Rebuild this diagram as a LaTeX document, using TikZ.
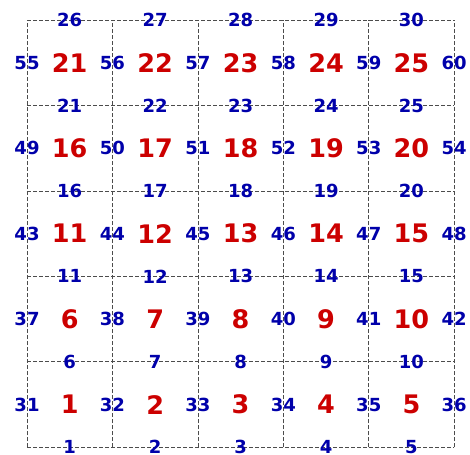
\documentclass[tikz,border=0pt]{standalone}
\usepackage{fontspec}
\setmainfont{DejaVu Sans}
\usetikzlibrary{positioning}
\definecolor{cellred}{RGB}{204,0,0}
\definecolor{edgeblue}{RGB}{0,0,170}
\tikzset{
  gridline/.style={draw=black!70, line width=0.5pt, dash pattern=on 2.6pt off 1.4pt},
  cellnum/.style={font=\fontsize{17}{17}\selectfont\bfseries, text=cellred, inner sep=0pt},
  edgenum/.style={font=\fontsize{12}{12}\selectfont\bfseries, text=edgeblue, inner sep=0pt},
}

\begin{document}
\begin{tikzpicture}
  \useasboundingbox (-0.632,-0.164) rectangle (10.37,10.47);
  \foreach \i in {0,...,5} {
    \draw[gridline] (2*\i,0) -- (2*\i,10);
    \draw[gridline] (0,2*\i) -- (10,2*\i);
  }
  % cells
  \foreach \r in {0,...,4}
    \foreach \c in {0,...,4} {
      \pgfmathtruncatemacro{\n}{5*\r+\c+1}
      \node[cellnum] (cell\n) at (2*\c+1,2*\r+1) {\n};
    }
  % horizontal edges
  \foreach \r in {0,...,5}
    \foreach \c in {0,...,4} {
      \pgfmathtruncatemacro{\n}{5*\r+\c+1}
      \node[edgenum] (edge\n) at (2*\c+1,2*\r) {\n};
    }
  % vertical edges
  \foreach \r in {0,...,4}
    \foreach \c in {0,...,5} {
      \pgfmathtruncatemacro{\n}{31+6*\r+\c}
      \node[edgenum] (edge\n) at (2*\c,2*\r+1) {\n};
    }
\end{tikzpicture}
\end{document}
